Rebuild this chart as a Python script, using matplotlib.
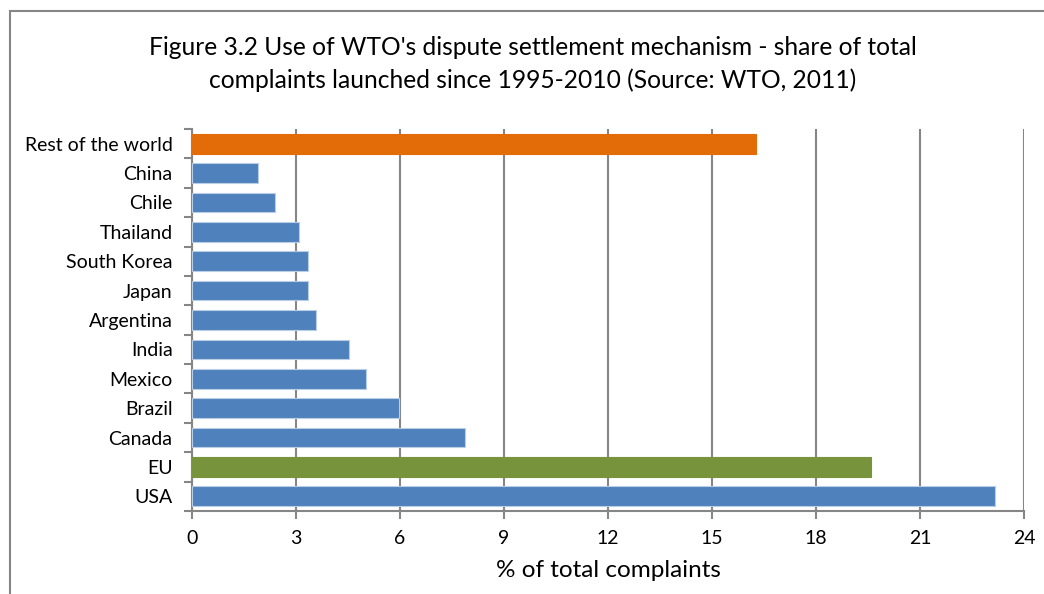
import matplotlib
matplotlib.use("Agg")
import matplotlib.pyplot as plt
from matplotlib.patches import Rectangle

categories = ["USA", "EU", "Canada", "Brazil", "Mexico", "India", "Argentina",
              "Japan", "South Korea", "Thailand", "Chile", "China", "Rest of the world"]
values = [23.15, 19.59, 7.87, 5.98, 5.01, 4.53, 3.58, 3.34, 3.34, 3.10, 2.39, 1.91, 16.27]
colors = ["#4F81BD", "#77933C", "#4F81BD", "#4F81BD", "#4F81BD", "#4F81BD", "#4F81BD",
          "#4F81BD", "#4F81BD", "#4F81BD", "#4F81BD", "#4F81BD", "#E36C09"]
xticks = [0, 3, 6, 9, 12, 15, 18, 21, 24]
title = "Figure 3.2 Use of WTO's dispute settlement mechanism - share of total\ncomplaints launched since 1995-2010 (Source: WTO, 2011)"
xlabel = "% of total complaints"

plt.rcParams['font.family'] = ['Lato', 'DejaVu Sans']

W, H = 1044, 594
fig = plt.figure(figsize=(W / 100, H / 100), dpi=100)
ax = fig.add_axes([192 / W, 1 - 511 / H, (1024 - 192) / W, (511 - 129) / H])

edgecols = ["#B9CDE5" if c == "#4F81BD" else c for c in colors]
ypos = list(range(len(categories)))
ax.barh(ypos, values, height=0.67, color=colors, edgecolor=edgecols, linewidth=0.8, zorder=3)

ax.set_xlim(0, 24)
ax.set_ylim(-0.5, len(categories) - 0.5)
ax.set_xticks(xticks)
ax.set_xticklabels([str(t) for t in xticks], fontsize=14)
ax.set_yticks(ypos)
ax.set_yticklabels(categories, fontsize=14)
ax.set_yticks([i - 0.5 for i in range(len(categories) + 1)], minor=True)
ax.tick_params(axis='y', which='major', length=0, pad=14)
ax.tick_params(axis='y', which='minor', length=6, width=1.5, color='#868686', direction='out')
ax.tick_params(axis='x', which='major', length=6, width=1.5, color='#868686', direction='out', pad=8)

ax.grid(axis='x', color='#868686', linewidth=1.5, zorder=0)
ax.set_axisbelow(True)
for s in ['top', 'right']:
    ax.spines[s].set_visible(False)
for s in ['left', 'bottom']:
    ax.spines[s].set_color('#868686')
    ax.spines[s].set_linewidth(1.5)

ax.set_xlabel(xlabel, fontsize=17.5, labelpad=9)

fig.text(533 / W, 1 - 64 / H, title, ha='center', va='center', fontsize=17.7,
         linespacing=1.45, multialignment='center')

fig.patches.append(Rectangle((10 / W, -0.1), 1.2, (1 - 11 / H) + 0.1, transform=fig.transFigure,
                             fill=False, edgecolor='#868686', linewidth=1.5))

fig.savefig("out.png", dpi=100)
